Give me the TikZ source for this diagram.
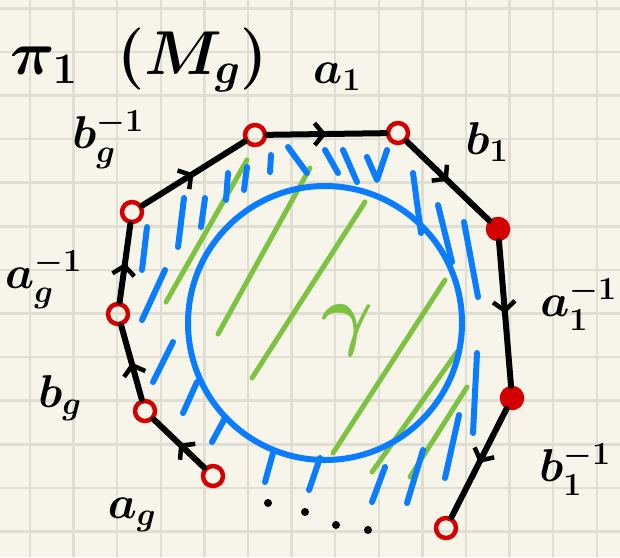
\RequirePackage{fix-cm}
\documentclass[tikz,border=0pt]{standalone}
\usepackage{tikz}
\usetikzlibrary{arrows.meta, decorations.markings}
\definecolor{paper}{RGB}{247,245,234}
\definecolor{gridc}{RGB}{224,222,210}
\definecolor{vred}{RGB}{212,0,0}
\definecolor{hblue}{RGB}{10,125,255}
\definecolor{hgreen}{RGB}{125,194,65}
\tikzstyle{vert}=[circle, draw=vred, line width=4.5pt, minimum size=20pt, inner sep=0pt]
\tikzstyle{side}=[line width=6pt, line cap=round, postaction={decorate},
  decoration={markings, mark=at position 0.5 with {\arrow{Straight Barb[length=9pt,width=22pt,line width=4.5pt]}}}]
\tikzstyle{hatch}=[hblue, line width=6pt, line cap=round, line join=round]
\tikzstyle{shade}=[hgreen, line width=5pt, line cap=round]
\tikzstyle{lbl}=[font=\boldmath\fontsize{46}{46}\selectfont, inner sep=0pt]

\begin{document}
\begin{tikzpicture}[x=1pt, y=-1pt]

\useasboundingbox (0,0) rectangle (620,557);
\fill[paper] (0,0) rectangle (620,557);

% squared paper
\foreach \gx in {0,...,13}
  \draw[gridc, line width=2.5pt] (30+43.6*\gx,0) -- (30+43.6*\gx,557);
\foreach \gy in {0,...,12}
  \draw[gridc, line width=2.5pt] (0,8.3+43.6*\gy) -- (620,8.3+43.6*\gy);

% green shading inside the loop
\foreach \xa/\ya/\xb/\yb in {166/302/247/160, 218/334/310/168, 252/378/365/202,
    333/453/445/280, 372/472/457/352, 410/477/467/387}
  \draw[shade] (\xa,\ya) -- (\xb,\yb);

% blue loop
\draw[hblue, line width=6pt] (325,323) circle (137);

% blue hatching between loop and polygon
\foreach \xa/\ya/\xb/\yb in {178/247/184/198, 201/227/205/198, 226/200/228/173,
    244/190/247/167, 270/172/271/155, 288/147/307/173, 325/150/338/173,
    343/150/357/182, 413/173/421/233, 438/205/452/262, 464/222/478/297,
    477/353/473/433, 459/415/445/478, 423/450/407/503, 385/467/372/502,
    320/458/309/490, 273/453/265/482, 225/418/212/442, 197/382/183/413,
    173/342/153/382, 165/270/142/320, 147/227/142/270}
  \draw[hatch] (\xa,\ya) -- (\xb,\yb);
\draw[hatch] (367,157) -- (377,180) -- (387,150);

% vertices
\node[vert] (v1) at (255,135) {};
\node[vert] (v2) at (398,133) {};
\node[vert, fill=vred] (v3) at (498,229) {};
\node[vert, fill=vred] (v4) at (512,398) {};
\node[vert] (v5) at (446,528) {};
\node[vert] (v6) at (213,476) {};
\node[vert] (v7) at (145,411) {};
\node[vert] (v8) at (118,314) {};
\node[vert] (v9) at (132,212) {};

% sides
\draw[side] (v9) -- (v1); % b_g^-1
\draw[side] (v1) -- (v2); % a_1
\draw[side] (v2) -- (v3); % b_1
\draw[side] (v3) -- (v4); % a_1^-1
\draw[side] (v4) -- (v5); % b_1^-1
\draw[side] (v6) -- (v7); % a_g
\draw[side] (v7) -- (v8); % b_g
\draw[side] (v8) -- (v9); % a_g^-1

% open gap
\foreach \dx/\dy in {268/503, 305/512, 336/525, 368/530}
  \fill (\dx,\dy) circle (4);

% labels
\node[lbl, font=\boldmath\fontsize{62}{62}\selectfont, anchor=west] (title) at (10,60) {$\pi_1\;\;(M_g)$};
\node[lbl] (lbgi) at (108,140) {$b_g^{-1}$};
\node[lbl] (la1) at (337,77) {$a_1$};
\node[lbl] (lb1) at (487,142) {$b_1$};
\node[lbl, anchor=east] (la1i) at (617,305) {$a_1^{-1}$};
\node[lbl] (lb1i) at (575,470) {$b_1^{-1}$};
\node[lbl, anchor=west] (lagi) at (5,280) {$a_g^{-1}$};
\node[lbl] (lbg) at (60,398) {$b_g$};
\node[lbl] (lag) at (132,515) {$a_g$};
\node[lbl, hgreen, font=\boldmath\fontsize{80}{80}\selectfont] (gamma) at (348,330) {$\gamma$};

\end{tikzpicture}
\end{document}
